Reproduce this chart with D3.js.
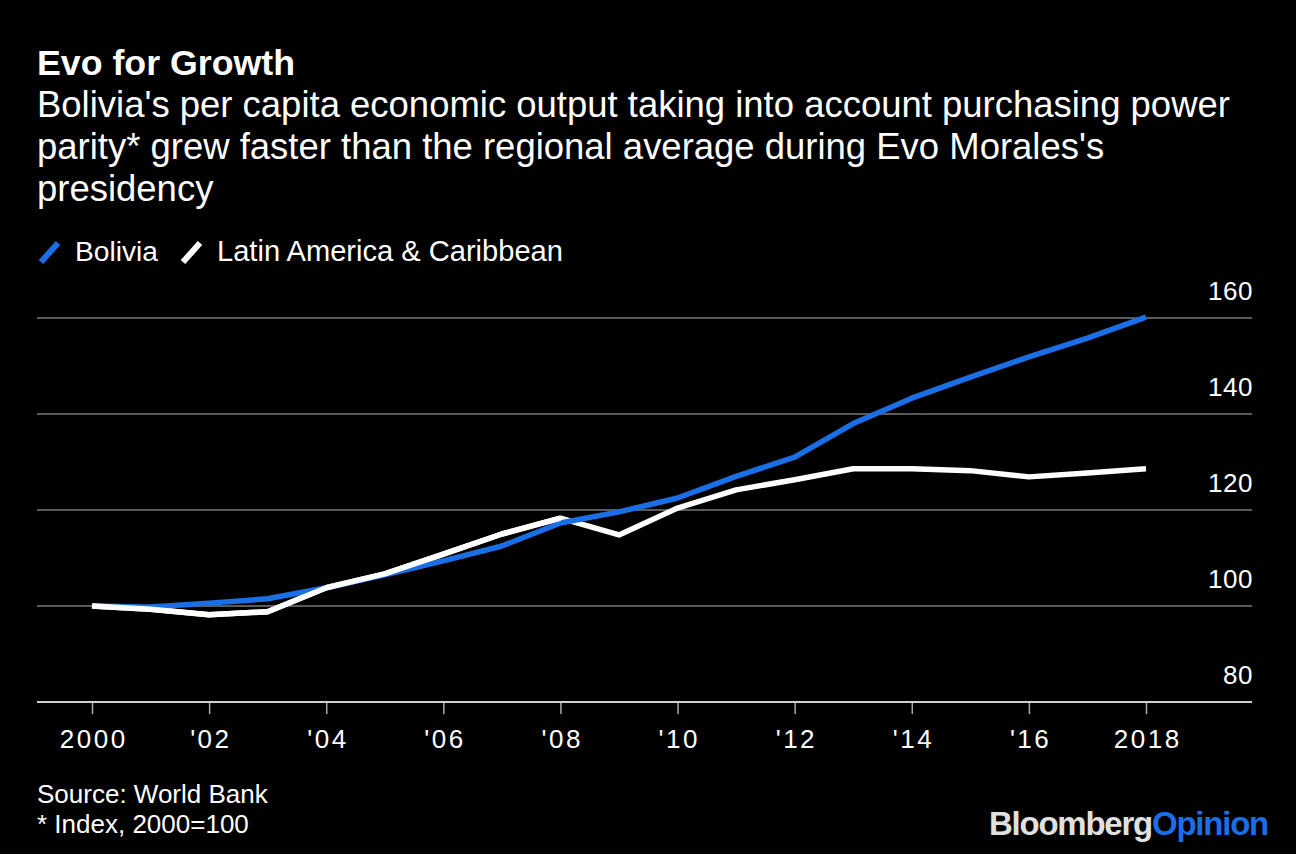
<!DOCTYPE html>
<html>
<head>
<meta charset="utf-8">
<script src="https://cdn.jsdelivr.net/npm/d3@7"></script>
<style>
  html, body { margin: 0; padding: 0; background: #000; }
  svg { display: block; }
  text { font-family: "Liberation Sans", Arial, Helvetica, sans-serif; }
</style>
</head>
<body>
<svg id="chart" width="1296" height="854"></svg>
<script>
const years = [2000, 2001, 2002, 2003, 2004, 2005, 2006, 2007, 2008, 2009,
               2010, 2011, 2012, 2013, 2014, 2015, 2016, 2017, 2018];
const bolivia = [100, 99.8, 100.6, 101.5, 103.8, 106.5, 109.4, 112.5, 117.3, 119.6,
                 122.5, 127.0, 131.0, 138.0, 143.3, 147.7, 151.9, 155.8, 160.2];
const latam = [100, 99.3, 98.2, 98.8, 103.8, 106.7, 110.8, 115.0, 118.3, 114.8,
               120.4, 124.2, 126.3, 128.6, 128.6, 128.2, 126.9, 127.7, 128.6];
const xTicks = [2000, 2002, 2004, 2006, 2008, 2010, 2012, 2014, 2016, 2018];
const xTickLabels = ["2000", "'02", "'04", "'06", "'08", "'10", "'12", "'14", "'16", "2018"];
const yTicks = [80, 100, 120, 140, 160];
const seriesNames = ["Bolivia", "Latin America & Caribbean"];
const seriesColors = ["#1a6fe6", "#ffffff"];
const titleText = "Evo for Growth";
const subtitleLines = [
  "Bolivia's per capita economic output taking into account purchasing power",
  "parity* grew faster than the regional average during Evo Morales's",
  "presidency"
];
const footerLines = ["Source: World Bank", "* Index, 2000=100"];

const svg = d3.select("#chart");
svg.append("rect").attr("width", 1296).attr("height", 854).attr("fill", "#000");

function fitWidth(sel, base, target) {
  const w = sel.node().getComputedTextLength();
  sel.attr("font-size", base * target / w);
}

const plotLeft = 37, plotRight = 1252;
const x = d3.scaleLinear().domain([2000, 2018]).range([92, 1146]);
const y = d3.scaleLinear().domain([80, 160]).range([702, 318]);

// Title
const title = svg.append("text").attr("x", 37).attr("y", 75)
  .attr("fill", "#fff").attr("font-size", 34).attr("font-weight", "bold")
  .text(titleText);
fitWidth(title, 34, 258);

// Subtitle
const sub = svg.append("g");
subtitleLines.forEach((t, i) => {
  sub.append("text").attr("x", 37).attr("y", 117 + i * 42)
    .attr("fill", "#fff").attr("font-size", 29).text(t);
});
const first = sub.select("text").node();
const fs = 29 * 1193 / first.getComputedTextLength();
sub.selectAll("text").attr("font-size", fs);

// Legend
const legend = svg.append("g");
const legendItems = [{x: 38, tx: 75, w: 83}, {x: 180, tx: 217, w: 346}];
seriesNames.forEach((name, i) => {
  const li = legendItems[i];
  legend.append("line")
    .attr("x1", li.x + 3).attr("y1", 262).attr("x2", li.x + 20).attr("y2", 243)
    .attr("stroke", seriesColors[i]).attr("stroke-width", 6);
  const t = legend.append("text").attr("x", li.tx).attr("y", 261)
    .attr("fill", "#fff").attr("font-size", 26).text(name);
  fitWidth(t, 26, li.w);
});

// Gridlines
svg.append("g").selectAll("line").data(yTicks.filter(d => d !== 80)).join("line")
  .attr("x1", plotLeft).attr("x2", plotRight)
  .attr("y1", d => y(d)).attr("y2", d => y(d))
  .attr("stroke", "#5a5a5a").attr("stroke-width", 2);

// Y labels
svg.append("g").selectAll("text").data(yTicks).join("text")
  .attr("x", 1253).attr("y", d => y(d) - 18)
  .attr("text-anchor", "end").attr("fill", "#fff").attr("font-size", 26)
  .attr("letter-spacing", 0.5)
  .text(d => d);

// X axis
const xAxis = d3.axisBottom(x).tickValues(xTicks)
  .tickFormat((d, i) => xTickLabels[i]).tickSize(12).tickPadding(16);
const xg = svg.append("g").attr("transform", `translate(0,${y(80)})`).call(xAxis);
xg.select(".domain").remove();
xg.append("line").attr("x1", plotLeft).attr("x2", plotRight).attr("y1", 0).attr("y2", 0)
  .attr("stroke", "#d0d0d0").attr("stroke-width", 2);
xg.selectAll(".tick line").attr("stroke", "#aaa").attr("stroke-width", 1.5);
xg.selectAll(".tick text").attr("fill", "#fff").attr("font-size", 26)
  .attr("letter-spacing", 2.5).attr("dx", 1.2)
  .attr("font-family", "'Liberation Sans', Arial, sans-serif");

// Lines
const line = d3.line().x((d, i) => x(years[i])).y(d => y(d));
svg.append("path").datum(latam).attr("d", line)
  .attr("fill", "none").attr("stroke", seriesColors[1]).attr("stroke-width", 5.5)
  .attr("stroke-linejoin", "round");
svg.append("path").datum(bolivia).attr("d", line)
  .attr("fill", "none").attr("stroke", seriesColors[0]).attr("stroke-width", 5.5)
  .attr("stroke-linejoin", "round");
svg.append("path").datum(latam.slice(0, 9)).attr("d", line)
  .attr("fill", "none").attr("stroke", seriesColors[1]).attr("stroke-width", 5.5)
  .attr("stroke-linejoin", "round");

// Footer
footerLines.forEach((t, i) => {
  svg.append("text").attr("x", 37).attr("y", 803 + i * 30)
    .attr("fill", "#fff").attr("font-size", 26).text(t);
});

// Logo
const logo = svg.append("text").attr("x", 1268).attr("y", 835)
  .attr("text-anchor", "end").attr("font-size", 31).attr("font-weight", "bold")
  .attr("letter-spacing", -1.2);
logo.append("tspan").attr("fill", "#e0e0e0").text("Bloomberg");
logo.append("tspan").attr("fill", "#1a6fe6").text("Opinion");
const lw = logo.node().getComputedTextLength();
logo.attr("font-size", 31 * 278 / lw);
</script>
</body>
</html>
